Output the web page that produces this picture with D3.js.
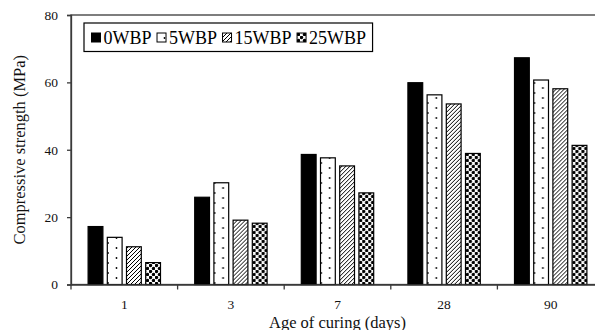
<!DOCTYPE html>
<html>
<head>
<meta charset="utf-8">
<script src="https://cdn.jsdelivr.net/npm/d3@7"></script>
<style>
    body { margin: 0; background: #fff; }
    svg { display: block; }
    svg text { font-family: "Liberation Serif", "Times New Roman", serif; }
</style>
</head>
<body>
<svg id="chart"></svg>
<script>
const width = 595;
const height = 330;

const ages = ["1", "3", "7", "28", "90"];
const series = ["0WBP", "5WBP", "15WBP", "25WBP"];
const wbp0 = [17.2, 25.9, 38.6, 59.9, 67.3];
const wbp5 = [14.0, 30.2, 37.6, 56.3, 60.7];
const wbp15 = [11.2, 19.1, 35.2, 53.6, 58.1];
const wbp25 = [6.5, 18.2, 27.2, 38.9, 41.3];
const yTicks = [0, 20, 40, 60, 80];

const values = [wbp0, wbp5, wbp15, wbp25];
const fills = ["#000", "url(#dots)", "url(#hatch)", "url(#confetti)"];

// plot area (right edge runs past the window, as in the picture)
const plotLeft = 71, plotTop = 15, plotRight = 604, plotBottom = 284.5;
const axisColor = "#3a3a3a";

const svg = d3.select("#chart")
    .attr("width", width)
    .attr("height", height);

// fill patterns
const defs = svg.append("defs");

const dots = defs.append("pattern")
    .attr("id", "dots")
    .attr("patternUnits", "userSpaceOnUse")
    .attr("width", 17)
    .attr("height", 10);
dots.append("rect").attr("width", 17).attr("height", 10).attr("fill", "#fff");
dots.append("circle").attr("cx", 3).attr("cy", 3).attr("r", 0.9).attr("fill", "#000");
dots.append("circle").attr("cx", 11.5).attr("cy", 8).attr("r", 0.9).attr("fill", "#000");

const hatch = defs.append("pattern")
    .attr("id", "hatch")
    .attr("patternUnits", "userSpaceOnUse")
    .attr("width", 4)
    .attr("height", 4);
hatch.append("rect").attr("width", 4).attr("height", 4).attr("fill", "#fff");
hatch.append("path")
    .attr("d", "M-1,1 L1,-1 M0,4 L4,0 M3,5 L5,3")
    .attr("stroke", "#000")
    .attr("stroke-width", 1);

const confetti = defs.append("pattern")
    .attr("id", "confetti")
    .attr("patternUnits", "userSpaceOnUse")
    .attr("width", 6)
    .attr("height", 6);
confetti.append("rect").attr("width", 6).attr("height", 6).attr("fill", "#fff");
confetti.append("circle").attr("cx", 1.5).attr("cy", 1.5).attr("r", 1.7).attr("fill", "#000");
confetti.append("circle").attr("cx", 4.5).attr("cy", 4.5).attr("r", 1.7).attr("fill", "#000");

// scales
const x0 = d3.scaleBand().domain(ages).range([plotLeft, plotRight]).padding(0);
const x1 = d3.scaleBand().domain(series).range([0, x0.bandwidth()])
    .paddingInner(0.167).paddingOuter(0.86);
const y = d3.scaleLinear().domain([0, 80]).range([plotBottom, plotTop]);

// plot frame
svg.append("rect")
    .attr("x", plotLeft)
    .attr("y", plotTop)
    .attr("width", plotRight - plotLeft)
    .attr("height", plotBottom - plotTop)
    .attr("fill", "none")
    .attr("stroke", axisColor)
    .attr("stroke-width", 1.3);

// bars
const groups = svg.append("g").selectAll("g")
    .data(ages)
    .enter().append("g")
    .attr("transform", d => "translate(" + x0(d) + ",0)");

groups.selectAll("rect")
    .data((d, i) => series.map((s, j) => ({ s: s, j: j, v: values[j][i] })))
    .enter().append("rect")
    .attr("x", d => x1(d.s) + 0.6)
    .attr("y", d => y(d.v))
    .attr("width", x1.bandwidth() - 1.2)
    .attr("height", d => y(0) - y(d.v))
    .attr("fill", d => fills[d.j])
    .attr("stroke", "#000")
    .attr("stroke-width", 1.2);

// y axis
const yAxis = svg.append("g")
    .attr("transform", "translate(" + plotLeft + ",0)")
    .call(d3.axisLeft(y).tickValues(yTicks).tickSize(4).tickPadding(9));
yAxis.attr("font-family", null).attr("font-size", null);
yAxis.select(".domain").attr("stroke", axisColor).attr("stroke-width", 1.3);
yAxis.selectAll(".tick line").attr("stroke", axisColor).attr("stroke-width", 1.3);
yAxis.selectAll("text")
    .style("font-size", "13.5px")
    .attr("fill", "#111");

// x axis: labels centred in bands, ticks on band edges
const xAxis = svg.append("g")
    .attr("transform", "translate(0," + plotBottom + ")")
    .call(d3.axisBottom(x0).tickSize(0).tickPadding(15));
xAxis.attr("font-family", null).attr("font-size", null);
xAxis.select(".domain").attr("stroke", axisColor).attr("stroke-width", 1.3);
xAxis.selectAll("text")
    .style("font-size", "13.5px")
    .attr("fill", "#111");

svg.append("g").selectAll("line")
    .data(ages)
    .enter().append("line")
    .attr("x1", d => x0(d))
    .attr("x2", d => x0(d))
    .attr("y1", plotBottom)
    .attr("y2", plotBottom + 5)
    .attr("stroke", axisColor)
    .attr("stroke-width", 1.3);

// axis titles
svg.append("text")
    .attr("x", (plotLeft + plotRight) / 2)
    .attr("y", 327.5)
    .attr("text-anchor", "middle")
    .style("font-size", "16.5px")
    .attr("fill", "#111")
    .text("Age of curing (days)");

svg.append("text")
    .attr("transform", "translate(25," + (plotTop + plotBottom) / 2 + ") rotate(-90)")
    .attr("text-anchor", "middle")
    .style("font-size", "16.5px")
    .attr("fill", "#111")
    .text("Compressive strength (MPa)");

// legend
const legend = svg.append("g");
const legendBox = legend.append("rect")
    .attr("x", 84)
    .attr("y", 23)
    .attr("height", 28.5)
    .attr("fill", "#fff")
    .attr("stroke", "#000")
    .attr("stroke-width", 1.2);

let lx = 91.5;
series.forEach((s, j) => {
    legend.append("rect")
        .attr("x", lx)
        .attr("y", 33)
        .attr("width", 9)
        .attr("height", 9)
        .attr("fill", fills[j])
        .attr("stroke", "#000")
        .attr("stroke-width", 1);
    const t = legend.append("text")
        .attr("x", lx + 12)
        .attr("y", 44)
        .style("font-size", "18px")
        .attr("fill", "#000")
        .text(s);
    lx += 12 + t.node().getComputedTextLength() + 5.5;
});
legendBox.attr("width", lx - 84 + 1);
</script>
</body>
</html>
